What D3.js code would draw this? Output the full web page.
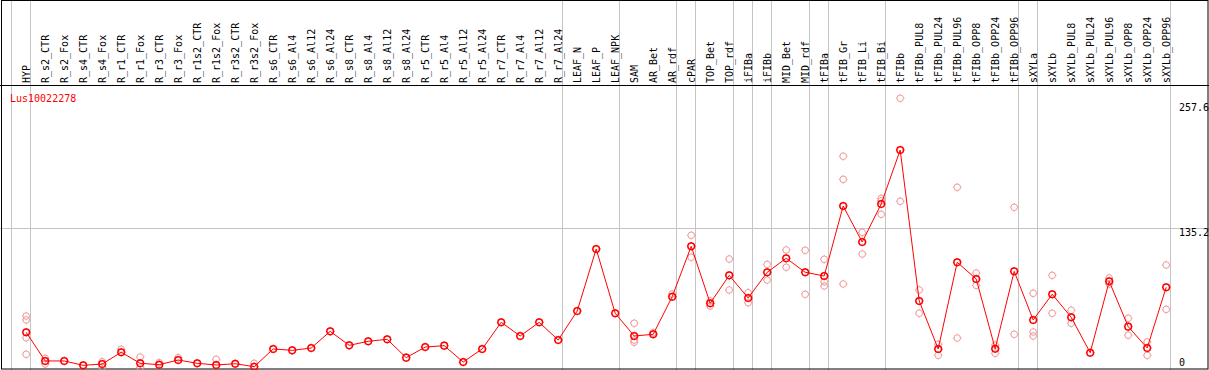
<!DOCTYPE html>
<html>
<head>
<meta charset="utf-8">
<script src="https://cdn.jsdelivr.net/npm/d3@7"></script>
<style>
  body { margin: 0; background: #fff; }
  text { font-family: "DejaVu Sans Mono", monospace; font-size: 10px; }
</style>
</head>
<body>
<div id="chart"></div>
<script>
// Nomes das amostras (colunas)
const samples = ["HYP", "R_s2_CTR", "R_s2_Fox", "R_s4_CTR", "R_s4_Fox", "R_r1_CTR", "R_r1_Fox",
  "R_r3_CTR", "R_r3_Fox", "R_r1s2_CTR", "R_r1s2_Fox", "R_r3s2_CTR", "R_r3s2_Fox", "R_s6_CTR",
  "R_s6_Al4", "R_s6_Al12", "R_s6_Al24", "R_s8_CTR", "R_s8_Al4", "R_s8_Al12", "R_s8_Al24",
  "R_r5_CTR", "R_r5_Al4", "R_r5_Al12", "R_r5_Al24", "R_r7_CTR", "R_r7_Al4", "R_r7_Al12", "R_r7_Al24",
  "LEAF_N", "LEAF_P", "LEAF_NPK", "SAM", "AR_Bet", "AR_rdf", "cPAR", "TOP_Bet", "TOP_rdf",
  "iFIBa", "iFIBb", "MID_Bet", "MID_rdf", "tFIBa", "tFIB_Gr", "tFIB_Li", "tFIB_Bi", "tFIBb",
  "tFIBb_PUL8", "tFIBb_PUL24", "tFIBb_PUL96", "tFIBb_OPP8", "tFIBb_OPP24", "tFIBb_OPP96",
  "sXYLa", "sXYLb", "sXYLb_PUL8", "sXYLb_PUL24", "sXYLb_PUL96", "sXYLb_OPP8", "sXYLb_OPP24", "sXYLb_OPP96"];

// Média por amostra (linha vermelha)
const means = [37.3, 10.3, 10.3, 6.2, 7.4, 18.5, 8.1, 6.8, 11.2, 8.1,
  6.5, 7.7, 4.9, 21.6, 20.3, 22.5, 38.2, 25.0, 28.8, 30.7,
  13.4, 23.4, 24.7, 9.3, 21.6, 46.7, 33.8, 46.7, 30.0, 57.3,
  115.7, 55.2, 33.8, 35.4, 70.8, 118.3, 64.6, 90.9, 69.6, 93.8,
  107.0, 93.8, 90.3, 156.2, 122.3, 158.1, 208.9, 66.8, 21.6, 103.2,
  87.5, 21.8, 94.7, 48.9, 73.1, 51.4, 18.1, 85.3, 42.6, 22.5, 79.7];

// Réplicas (pontos claros)
const replicates = [
  [52.6, 48.9, 32.2, 16.6], [12.8, 7.4], [], [], [9.6, 4.3], [21.3], [14.0, 4.3], [8.7], [13.4], [],
  [11.9], [], [8.1], [], [], [], [], [], [], [],
  [], [], [], [], [], [], [], [], [], [],
  [], [], [45.8, 30.0, 27.9], [36.9], [73.3], [128.6, 107.9], [62.0, 66.8], [106.3, 77.1], [74.6, 65.2], [101.3, 86.5],
  [114.8, 98.5], [114.5, 73.1], [106.0, 84.9, 80.9], [203.0, 181.3, 82.8], [131.4, 111.0], [163.4, 148.4, 161.0], [257.6, 160.6], [77.1, 55.2], [26.0, 15.6], [173.8, 31.9],
  [93.1, 81.5], [25.3, 17.5], [155.0, 35.4], [74.0, 37.6, 33.8], [90.9, 55.2], [58.0, 45.8], [], [88.4, 82.8], [50.5, 34.5], [28.2, 15.6],
  [100.7, 58.9]];

// Última amostra de cada grupo (linha vertical cinza à direita)
const groupEnds = ["HYP", "R_r7_Al24", "LEAF_NPK", "AR_rdf", "cPAR", "TOP_rdf", "iFIBa", "iFIBb",
  "MID_rdf", "tFIBa", "tFIB_Bi", "tFIBb_OPP96", "sXYLa", "sXYLb_OPP96"];

const yTicks = [0, 135.2, 257.6];
const geneName = "Lus10022278";

const W = 1209, H = 370;
const headerBottom = 85;

const svg = d3.select("#chart").append("svg")
  .attr("width", W)
  .attr("height", H);

const x = d3.scaleBand()
  .domain(samples)
  .range([11, 1170])
  .padding(0);
const px = d => x(d) + 15.2;

const y = d3.scaleLinear()
  .domain([0, 257.6])
  .range([371.9, 98.3]);

// Linhas de grade
svg.append("line")
  .attr("x1", 0).attr("x2", W)
  .attr("y1", Math.round(y(135.2)) + 0.5).attr("y2", Math.round(y(135.2)) + 0.5)
  .attr("stroke", "#c4c4c4");

svg.selectAll(".sep")
  .data([null, ...groupEnds])
  .join("line")
    .attr("class", "sep")
    .attr("x1", d => (d === null ? x(samples[0]) : x(d) + x.bandwidth()) + 0.5)
    .attr("x2", d => (d === null ? x(samples[0]) : x(d) + x.bandwidth()) + 0.5)
    .attr("y1", 0).attr("y2", H)
    .attr("stroke", "#c4c4c4");

// Moldura
svg.append("rect")
  .attr("x", 1.5).attr("y", 0.5)
  .attr("width", W - 2.5).attr("height", H - 1.5)
  .attr("fill", "none").attr("stroke", "#000");
svg.append("line")
  .attr("x1", 0).attr("x2", W)
  .attr("y1", headerBottom + 0.5).attr("y2", headerBottom + 0.5)
  .attr("stroke", "#000");

// Rótulos das amostras
svg.selectAll(".lbl")
  .data(samples)
  .join("text")
    .attr("class", "lbl")
    .attr("transform", d => `translate(${px(d) + 4},83) rotate(-90)`)
    .attr("fill", "#000")
    .text(d => d);

// Eixo direito
svg.selectAll(".ytick")
  .data(yTicks)
  .join("text")
    .attr("class", "ytick")
    .attr("x", 1179)
    .attr("y", d => Math.min(Math.max(y(d) + 8, 111), 366))
    .attr("fill", "#000")
    .text(d => d);

svg.append("text")
  .attr("x", 10).attr("y", 102)
  .attr("fill", "#ff0000")
  .text(geneName);

// Marcador: círculo com pequenos traços
function marker(g, r, color, sw) {
  g.append("circle").attr("r", r).attr("fill", "none").attr("stroke", color).attr("stroke-width", sw);
  [[0, -1], [0, 1], [-1, 0], [1, 0]].forEach(([dx, dy]) => {
    g.append("line")
      .attr("x1", dx * r).attr("y1", dy * r)
      .attr("x2", dx * (r + 1)).attr("y2", dy * (r + 1))
      .attr("stroke", color).attr("stroke-width", 1);
  });
}

// Pontos das réplicas
const repData = samples.flatMap((s, i) => replicates[i].map(v => ({ s, v })));
svg.selectAll(".rep")
  .data(repData)
  .join("g")
    .attr("class", "rep")
    .attr("transform", d => `translate(${px(d.s)},${y(d.v)})`)
    .each(function() { marker(d3.select(this), 3.3, "#f09a9a", 1); });

// Linha das médias
svg.append("path")
  .datum(samples.map((s, i) => ({ s, v: means[i] })))
  .attr("fill", "none")
  .attr("stroke", "#ff0000")
  .attr("stroke-width", 1)
  .attr("d", d3.line().x(d => px(d.s)).y(d => y(d.v)));

svg.selectAll(".mean")
  .data(samples.map((s, i) => ({ s, v: means[i] })))
  .join("g")
    .attr("class", "mean")
    .attr("transform", d => `translate(${px(d.s)},${y(d.v)})`)
    .each(function() { marker(d3.select(this), 3.3, "#ff0000", 1.5); });
</script>
</body>
</html>
